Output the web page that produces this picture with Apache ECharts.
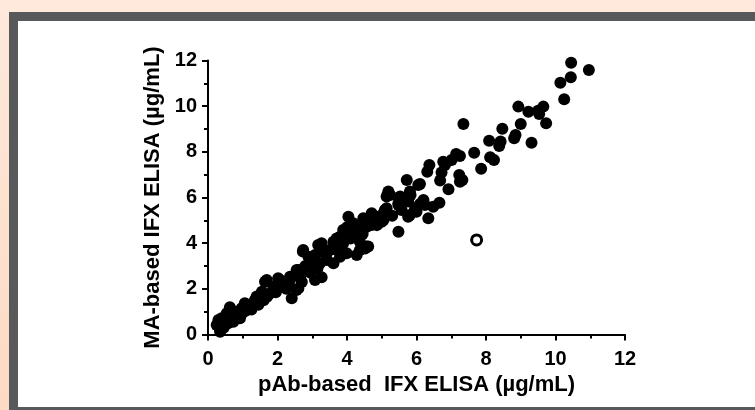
<!DOCTYPE html>
<html>
<head>
<meta charset="utf-8">
<script src="https://cdn.jsdelivr.net/npm/echarts@6/dist/echarts.min.js"></script>
<style>
html,body{margin:0;padding:0;}
#chart{width:755px;height:410px;}
</style>
</head>
<body>
<div id="chart"></div>
<script>
// Tick labels
const xTicks = [0, 2, 4, 6, 8, 10, 12];
const yTicks = [0, 2, 4, 6, 8, 10, 12];
const xAxisTitle = "pAb-based  IFX ELISA (µg/mL)";
const yAxisTitle = "MA-based IFX ELISA (µg/mL)";

// Filled points: [pAb-based, MA-based]
const filledPoints = [
  [0.30,0.64],[0.25,0.42],[0.35,0.20],[0.35,0.49],[0.39,0.71],[0.39,0.34],[0.35,0.12],[0.58,0.49],[0.73,0.56],[0.54,0.93],
  [0.63,1.19],[0.73,0.85],[0.83,1.00],[0.92,0.71],[0.97,1.15],[1.06,1.37],[1.16,1.15],[1.26,1.29],[0.48,0.62],[0.62,0.70],
  [0.85,0.80],[1.00,0.95],[1.10,1.05],[0.45,0.30],
  [1.35,1.51],[1.50,1.66],[1.55,1.87],[1.40,1.66],[1.64,2.31],[1.69,2.39],[1.78,1.80],[1.88,2.09],[2.02,2.02],[2.07,2.39],
  [2.02,2.46],[2.31,2.24],[2.36,2.53],[2.36,2.39],[2.41,1.59],[2.55,1.95],[2.60,2.02],[1.45,1.30],[1.60,1.50],[1.70,1.65],
  [1.95,1.85],[2.15,2.10],[2.25,2.00],[1.25,1.10],
  [2.60,2.83],[2.65,2.53],[2.55,2.83],[2.73,3.63],[2.84,2.83],[2.98,3.12],[3.08,3.48],[3.17,3.92],[3.08,2.39],[3.27,2.51],
  [2.74,3.70],[2.89,3.41],[3.22,3.12],[3.42,3.26],[3.61,3.12],[3.22,3.63],[3.27,4.00],[3.51,3.70],[3.71,3.70],[3.61,4.06],
  [2.80,3.00],[2.95,2.70],[3.15,2.90],[3.40,3.50],[2.70,2.30],
  [3.89,4.58],[3.80,4.28],[3.99,4.28],[3.89,4.00],[3.99,3.56],[3.80,3.41],[4.04,5.16],[4.18,4.87],[4.28,4.58],[4.14,4.50],
  [4.37,4.06],[4.57,3.85],[4.37,3.70],[4.28,3.48],[4.52,3.77],[4.61,3.85],[4.47,5.09],[4.42,4.80],[4.57,4.72],[4.71,5.31],
  [4.86,5.16],[4.66,5.09],[4.71,4.80],[4.86,4.79],[4.10,4.20],[4.25,4.35],[4.45,4.40],[3.70,4.20],[4.00,4.70],
  [5.00,4.94],[5.05,5.01],[5.09,5.45],[5.05,5.31],[5.14,5.53],[5.19,6.18],[5.14,6.04],[5.19,6.26],[5.24,6.11],[5.48,4.50],
  [5.53,6.04],[5.48,5.75],[5.53,5.89],[5.48,5.67],[5.57,5.45],[5.76,5.82],[5.81,5.23],[5.76,5.16],[5.96,5.53],[6.00,5.38],
  [5.72,6.77],[5.81,6.26],[5.83,6.11],[6.05,6.55],[6.10,6.59],[6.20,5.89],[6.10,5.72],[6.24,5.67],[6.34,5.09],[6.48,5.60],
  [6.66,5.77],[5.30,5.20],
  [6.37,7.42],[6.31,7.13],[6.72,7.09],[6.68,6.74],[6.77,7.57],[6.82,7.42],[6.92,6.36],[7.01,7.64],[7.14,7.91],[7.25,7.82],
  [7.23,6.99],[7.25,6.69],[7.32,6.77],[7.35,9.22],[7.66,7.96],[7.86,7.26],
  [8.09,8.49],[8.12,7.76],[8.23,7.64],[8.42,8.45],[8.38,8.26],[8.47,9.01],[8.85,8.74],[8.81,8.59],[8.93,9.98],[9.00,9.22],
  [9.22,9.76],[9.31,8.40],[9.50,9.80],[9.65,9.98],[9.53,9.66],[9.73,9.25],[10.14,11.03],[10.25,10.30],[10.44,11.27],[10.45,11.90],
  [10.96,11.58]
];
// Open (outlier) point
const openPoints = [[7.73,4.14]];

const chart = echarts.init(document.getElementById('chart'), null, {renderer:'canvas'});
const fontFamily = '"Liberation Sans", Arial, sans-serif';
const axisCommon = {
  type: 'value', min: xTicks[0], max: xTicks[xTicks.length-1], interval: 2,
  axisLine: {show:true, onZero:false, lineStyle:{color:'#000', width:2}},
  axisTick: {show:true, length:6, lineStyle:{color:'#000', width:2}},
  minorTick: {show:true, splitNumber:2, length:4, lineStyle:{color:'#000', width:2}},
  splitLine: {show:false},
  axisLabel: {color:'#000', fontSize:20, fontWeight:'bold', fontFamily: fontFamily},
  nameLocation: 'middle',
  nameTextStyle: {color:'#000', fontSize:22, fontWeight:'bold', fontFamily: fontFamily}
};
chart.setOption({
  backgroundColor: new echarts.graphic.LinearGradient(0,0,0,1,[{offset:0,color:'#fee9dc'},{offset:1,color:'#fddac3'}]),
  animation: false,
  graphic: [
    {type:'rect', z:-10, shape:{x:9, y:12, width:746, height:398}, style:{fill:'#58595b'}},
    {type:'rect', z:-9, shape:{x:18, y:21, width:737, height:386}, style:{fill:'#ffffff'}}
  ],
  grid: {left:208, right:130, top:60.5, bottom:75.5, containLabel:false},
  xAxis: Object.assign({}, axisCommon, {
    name: xAxisTitle, nameGap: 38,
    axisLabel: Object.assign({}, axisCommon.axisLabel, {margin:15})
  }),
  yAxis: Object.assign({}, axisCommon, {
    min: yTicks[0], max: yTicks[yTicks.length-1],
    name: yAxisTitle, nameGap: 40,
    axisLabel: Object.assign({}, axisCommon.axisLabel, {margin:11})
  }),
  series: [
    {type:'scatter', data: filledPoints, symbol:'circle', symbolSize:12, clip:false,
     itemStyle:{color:'#000', opacity:1}, z:3},
    {type:'scatter', data: openPoints, symbol:'circle', symbolSize:10, clip:false,
     itemStyle:{color:'#fff', borderColor:'#000', borderWidth:3, opacity:1}, z:4}
  ]
});
</script>
</body>
</html>
